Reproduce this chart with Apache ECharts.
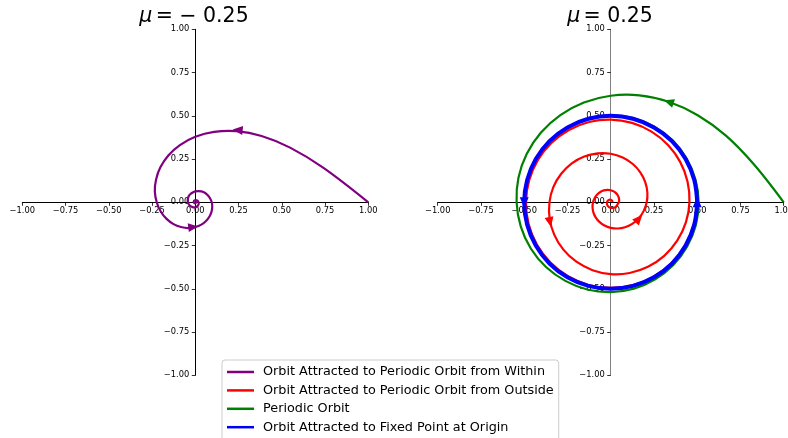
<!DOCTYPE html>
<html>
<head>
<meta charset="utf-8">
<script src="https://cdn.jsdelivr.net/npm/echarts@6/dist/echarts.min.js"></script>
<style>
  html, body { margin: 0; padding: 0; background: #fff; }
  #chart { width: 788px; height: 438px; }
</style>
</head>
<body>
<div id="chart"></div>
<script>
// Phase portraits of the Hopf normal form for two values of mu.
const panelTitles = ['\u2212 0.25', '0.25'];
const tickValues = [-1, -0.75, -0.5, -0.25, 0, 0.25, 0.5, 0.75, 1];

const seriesNames = [
  'Orbit Attracted to Periodic Orbit from Within',
  'Orbit Attracted to Periodic Orbit from Outside',
  'Periodic Orbit',
  'Orbit Attracted to Fixed Point at Origin'
];

// mu = -0.25 : trajectory from (1, 0) spiralling into the origin
const purpleOrbit = [
  [1, 0], [0.741, 0.199], [0.548, 0.316], [0.383, 0.383], [0.237, 0.411],
  [0.109, 0.407], [0, 0.379], [-0.089, 0.331], [-0.156, 0.271], [-0.202, 0.202],
  [-0.227, 0.131], [-0.234, 0.063], [-0.223, 0], [-0.200, -0.053], [-0.166, -0.096],
  [-0.126, -0.126], [-0.083, -0.143], [-0.040, -0.149], [0, -0.143], [0.035, -0.129],
  [0.062, -0.108], [0.082, -0.082], [0.094, -0.054], [0.098, -0.026], [0.095, 0],
  [0.085, 0.023], [0.072, 0.041], [0.055, 0.055], [0.036, 0.063], [0.017, 0.065],
  [0, 0.063], [-0.015, 0.057], [-0.028, 0.048], [-0.037, 0.037], [-0.042, 0.024],
  [-0.044, 0.012], [-0.043, 0], [-0.032, -0.019], [-0.016, -0.028], [0, -0.029],
  [0.013, -0.022], [0.019, -0.011], [0.019, 0], [0.011, 0.011], [0, 0.013],
  [-0.0076, 0.0076], [-0.0088, 0], [-0.0051, -0.0051], [0, -0.006], [0.004, 0],
  [0, 0.003], [-0.002, 0], [0, -0.0015], [0.001, 0]
];

// mu = 0.25 : trajectory from near the origin winding out to r = 0.5
const redOrbit = [
  [0.0099, 0], [0.0085, 0.0085], [0, 0.0146], [-0.0126, 0.0126], [-0.0217, 0],
  [-0.0186, -0.0186], [0, -0.032], [0.0276, -0.0276], [0.047, 0],
  [0.0488, 0.0131], [0.0467, 0.027], [0.0407, 0.0407], [0.0307, 0.0531], [0.0169, 0.0632],
  [0, 0.0698], [-0.0193, 0.0719], [-0.0397, 0.0687], [-0.0598, 0.0598], [-0.0779, 0.045],
  [-0.0926, 0.0248], [-0.1021, 0], [-0.105, -0.0281], [-0.1002, -0.0579], [-0.087, -0.087],
  [-0.0654, -0.1133], [-0.036, -0.1343], [0, -0.1476], [0.0406, -0.1514], [0.083, -0.1438],
  [0.1244, -0.1244], [0.1613, -0.0932], [0.1902, -0.051], [0.2081, 0], [0.212, 0.0568],
  [0.2001, 0.1156], [0.172, 0.172], [0.1278, 0.2213], [0.0693, 0.2587], [0, 0.2805],
  [-0.0758, 0.283], [-0.1527, 0.2645], [-0.2249, 0.2249], [-0.286, 0.1651], [-0.3311, 0.0887],
  [-0.354, 0], [-0.353, -0.0946], [-0.3259, -0.1882], [-0.2736, -0.2736], [-0.1983, -0.3434],
  [-0.1051, -0.3923], [0, -0.4149], [0.1095, -0.4085], [0.2153, -0.3728], [0.3094, -0.3094],
  [0.3844, -0.222], [0.4346, -0.1164], [0.4552, 0], [0.4443, 0.119], [0.4022, 0.2322],
  [0.3312, 0.3312], [0.236, 0.4087], [0.123, 0.4589], [0, 0.478], [-0.1244, 0.4641],
  [-0.2414, 0.4181], [-0.3428, 0.3428], [-0.4214, 0.2433], [-0.4716, 0.1264], [-0.4896, 0],
  [-0.4741, -0.127], [-0.426, -0.246], [-0.3485, -0.3485], [-0.2469, -0.4276], [-0.128, -0.4777],
  [0, -0.4951], [0.1283, -0.4788], [0.2481, -0.4297], [0.3512, -0.3512], [0.4305, -0.2486],
  [0.4805, -0.1288], [0.4978, 0]
];

// mu = 0.25 : trajectory from (1, 0) winding in to r = 0.5
const greenOrbit = [
  [1, 0], [0.826, 0.221], [0.666, 0.385], [0.503, 0.503], [0.335, 0.581],
  [0.166, 0.618], [0, 0.616], [-0.155, 0.577], [-0.291, 0.504], [-0.403, 0.403],
  [-0.485, 0.280], [-0.533, 0.143], [-0.544, 0], [-0.520, -0.139], [-0.462, -0.267],
  [-0.374, -0.374], [-0.262, -0.454], [-0.135, -0.504], [0, -0.519], [0.134, -0.499],
  [0.257, -0.445], [0.362, -0.362], [0.442, -0.255], [0.492, -0.132], [0.508, 0],
  [0.490, 0.131], [0.439, 0.253], [0.358, 0.358], [0.252, 0.437], [0.131, 0.487],
  [0, 0.504]
];

// mu = 0.25 : limit cycle of radius 0.5
const blueOrbit = [
  [0.5, 0], [0.483, 0.129], [0.433, 0.25], [0.354, 0.354], [0.25, 0.433],
  [0.129, 0.483], [0, 0.5], [-0.129, 0.483], [-0.25, 0.433], [-0.354, 0.354],
  [-0.433, 0.25], [-0.483, 0.129], [-0.5, 0], [-0.483, -0.129], [-0.433, -0.25],
  [-0.354, -0.354], [-0.25, -0.433], [-0.129, -0.483], [0, -0.5], [0.129, -0.483],
  [0.25, -0.433], [0.354, -0.354], [0.433, -0.25], [0.483, -0.129], [0.5, 0]
];

// direction markers: x, y, heading in degrees (counter-clockwise from +x)
const purpleArrows = [[0.245, 0.418, 174], [-0.012, -0.143, 7]];
const redArrows = [[0.163, -0.095, 48], [-0.351, -0.114, 281]];
const greenArrows = [[0.336, 0.581, 161]];
const blueArrows = [[0.5, 0, 90], [-0.5, 0, 270]];

const FONT = 'DejaVu Sans';
const GRID_W = 346, GRID_H = 346;

function tickLabel(v) {
  return (v < 0 ? '\u2212' : '') + Math.abs(v).toFixed(2);
}

// axes are pulled to the middle of each square grid so they cross at the origin
function makeXAxis(gridIndex) {
  return {
    type: 'value', gridIndex, min: tickValues[0], max: tickValues[tickValues.length - 1], interval: 0.25,
    position: 'bottom', offset: -GRID_H / 2,
    axisLine: { onZero: false, lineStyle: { color: '#000', width: 1 } },
    axisTick: { show: true, length: 3.5, lineStyle: { color: '#000', width: 0.8 } },
    axisLabel: { formatter: tickLabel, fontFamily: FONT, fontSize: 8.3, color: '#000', margin: 5, showMaxLabel: true, showMinLabel: true },
    splitLine: { show: false }
  };
}
function makeYAxis(gridIndex, lineColor) {
  return {
    type: 'value', gridIndex, min: tickValues[0], max: tickValues[tickValues.length - 1], interval: 0.25,
    position: 'left', offset: -GRID_W / 2,
    axisLine: { onZero: false, lineStyle: { color: lineColor, width: 1 } },
    axisTick: { show: true, length: 3.5, lineStyle: { color: '#000', width: 0.8 } },
    axisLabel: { formatter: tickLabel, fontFamily: FONT, fontSize: 8.3, color: '#000', margin: 6, showMaxLabel: true, showMinLabel: true },
    splitLine: { show: false }
  };
}

// each orbit is one smooth path through its points, projected with the grid's axes
function orbitSeries(name, pts, color, idx, width) {
  return {
    name, type: 'custom', coordinateSystem: 'cartesian2d',
    xAxisIndex: idx, yAxisIndex: idx,
    data: pts, clip: false, silent: true,
    itemStyle: { color },
    encode: { x: 0, y: 1 },
    renderItem: (params, api) => {
      if (params.dataIndex !== 0) return null;
      return {
        type: 'polyline',
        shape: { points: pts.map(p => api.coord(p)), smooth: 0.35, smoothConstraint: false },
        style: { stroke: color, lineWidth: width || 2.2, fill: null, lineJoin: 'round', lineCap: 'butt' },
        silent: true
      };
    }
  };
}
function arrowSeries(list, color, idx) {
  return {
    type: 'scatter', xAxisIndex: idx, yAxisIndex: idx, z: 5,
    symbol: 'triangle', symbolSize: [9, 10],
    itemStyle: { color, opacity: 1 },
    silent: true,
    data: list.map(a => ({ value: [a[0], a[1]], symbolRotate: a[2] - 90 }))
  };
}

function titleText(x, label) {
  return {
    type: 'text', x, y: 17, style: {
      text: '{i|\u03bc} {n|= ' + label + '}', align: 'center', verticalAlign: 'middle',
      rich: { i: { fontFamily: FONT, fontSize: 20.5, fontStyle: 'italic', fill: '#000' },
              n: { fontFamily: FONT, fontSize: 20.5, fill: '#000' } }
    }
  };
}

const chart = echarts.init(document.getElementById('chart'), null, { renderer: 'canvas' });
chart.setOption({
  animation: false,
  backgroundColor: '#fff',
  grid: [
    { left: 22.3, top: 29.3, width: GRID_W, height: GRID_H, outerBoundsMode: 'none', containLabel: false },
    { left: 437.7, top: 29.3, width: GRID_W, height: GRID_H, outerBoundsMode: 'none', containLabel: false }
  ],
  xAxis: [makeXAxis(0), makeXAxis(1)],
  yAxis: [makeYAxis(0, '#000'), makeYAxis(1, '#808080')],
  graphic: [titleText(194, panelTitles[0]), titleText(610, panelTitles[1])],
  legend: {
    data: seriesNames,
    icon: 'path://M0,0H27V2.5H0Z',
    symbolKeepAspect: true,
    orient: 'vertical', left: 222, top: 360, height: 120,
    itemWidth: 27, itemHeight: 14, itemGap: 5.4,
    padding: [5.5, 5, 12, 5],
    backgroundColor: 'rgba(255,255,255,0.8)',
    borderColor: '#cccccc', borderWidth: 1, borderRadius: 3,
    textStyle: { fontFamily: FONT, fontSize: 12.8, color: '#000', padding: [0, 0, 0, 4] },
    selectedMode: false
  },
  series: [
    orbitSeries(seriesNames[0], purpleOrbit, '#800080', 0),
    orbitSeries(seriesNames[1], redOrbit, '#ff0000', 1),
    orbitSeries(seriesNames[2], greenOrbit, '#008000', 1),
    orbitSeries(seriesNames[3], blueOrbit, '#0000ff', 1, 4),
    arrowSeries(purpleArrows, '#800080', 0),
    arrowSeries(redArrows, '#ff0000', 1),
    arrowSeries(greenArrows, '#008000', 1),
    arrowSeries(blueArrows, '#0000ff', 1)
  ]
});
</script>
</body>
</html>
